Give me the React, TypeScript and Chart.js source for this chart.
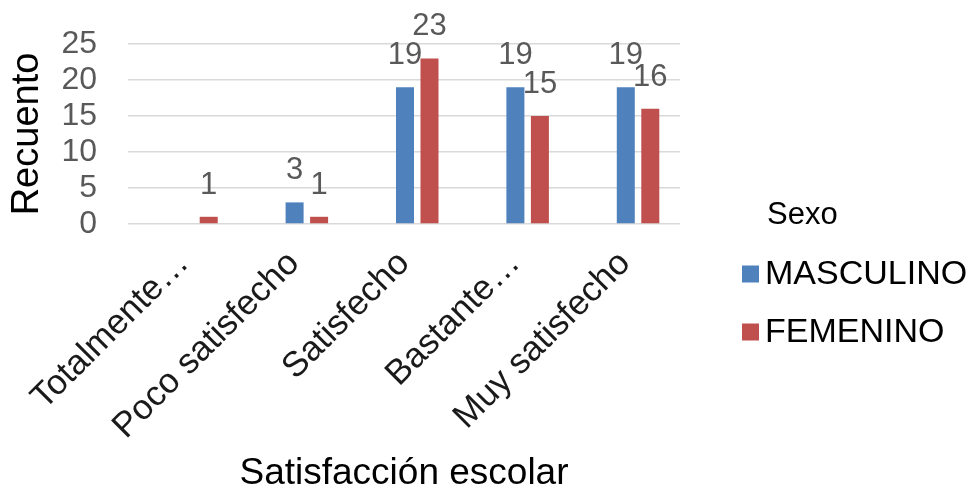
import React, { useEffect, useRef } from "react";
import { Chart, registerables } from "chart.js";

Chart.register(...registerables);

const categories = ["Totalmente…", "Poco satisfecho", "Satisfecho", "Bastante…", "Muy satisfecho"];
const seriesNames = ["MASCULINO", "FEMENINO"];
const masculino = [0, 3, 19, 19, 19];
const femenino = [1, 1, 23, 15, 16];
const yMin = 0;
const yMax = 25;
const yStep = 5;
const legendTitle = "Sexo";
const xTitle = "Satisfacción escolar";
const yTitle = "Recuento";

const colors = ["#4F81BD", "#C0504D"];
const FONT = "'Liberation Sans', Arial, sans-serif";

const dataLabelPlugin = {
  id: "dataLabels",
  afterDatasetsDraw(chart: any) {
    const ctx = chart.ctx;
    ctx.save();
    ctx.font = `31px ${FONT}`;
    ctx.fillStyle = "#595959";
    ctx.textAlign = "center";
    ctx.textBaseline = "alphabetic";
    chart.data.datasets.forEach((ds: any, di: number) => {
      const meta = chart.getDatasetMeta(di);
      meta.data.forEach((bar: any, i: number) => {
        const v = ds.data[i];
        if (!v) return;
        ctx.fillText(String(v), bar.x, bar.y - 23);
      });
    });
    ctx.restore();
  },
};

const legendPlugin = {
  id: "customLegend",
  afterDraw(chart: any) {
    const ctx = chart.ctx;
    ctx.save();
    ctx.textBaseline = "middle";
    ctx.textAlign = "left";
    ctx.fillStyle = "#000";
    ctx.font = `31px ${FONT}`;
    ctx.fillText(legendTitle, 767, 215);
    ctx.font = `34px ${FONT}`;
    chart.data.datasets.forEach((ds: any, i: number) => {
      const y = 274 + i * 58;
      ctx.fillStyle = ds.backgroundColor;
      ctx.fillRect(742, y - 8.5, 17, 17);
      ctx.fillStyle = "#000";
      ctx.fillText(ds.label, 765, y + 1);
    });
    ctx.restore();
  },
};

export default function App() {
  const ref = useRef<HTMLCanvasElement>(null);
  useEffect(() => {
    if (!ref.current) return;
    const chart = new Chart(ref.current, {
      type: "bar",
      data: {
        labels: categories,
        datasets: [
          { label: seriesNames[0], data: masculino, backgroundColor: colors[0] },
          { label: seriesNames[1], data: femenino, backgroundColor: colors[1] },
        ],
      },
      options: {
        responsive: false,
        animation: false,
        layout: { padding: { top: 44, right: 290, left: 0, bottom: 0 } },
        datasets: { bar: { categoryPercentage: 0.444, barPercentage: 0.735 } } as any,
        plugins: { legend: { display: false }, tooltip: { enabled: false } },
        scales: {
          x: {
            grid: { display: false },
            border: { display: false },
            afterFit: (s: any) => { s.height = 268; },
            afterBuildTicks: (s: any) => { s._startValue -= 0.12; },
            ticks: {
              autoSkip: false,
              minRotation: 45,
              maxRotation: 45,
              padding: 11,
              labelOffset: -13,
              color: "#1a1a1a",
              font: { family: FONT, size: 35 },
            },
            title: {
              display: true,
              text: xTitle,
              color: "#000",
              font: { family: FONT, size: 37, lineHeight: 1 },
              padding: { top: 0, bottom: 0 },
            },
          },
          y: {
            min: yMin,
            max: yMax,
            afterFit: (s: any) => { s.width = 128; },
            grid: { color: "#d9d9d9", lineWidth: 1.5, drawTicks: true, tickLength: 25, tickColor: "rgba(0,0,0,0)" },
            border: { display: false },
            ticks: {
              stepSize: yStep,
              autoSkip: false,
              padding: 6,
              color: "#595959",
              font: { family: FONT, size: 32 },
            },
            title: {
              display: true,
              text: yTitle,
              color: "#000",
              font: { family: FONT, size: 38, lineHeight: 1 },
              padding: { top: 8.5, bottom: 0 },
            },
          },
        },
      },
      plugins: [dataLabelPlugin, legendPlugin],
    });
    return () => chart.destroy();
  }, []);
  return (
    <div style={{ position: "absolute", left: 0, top: 0, width: 970, height: 492, background: "#fff" }}>
      <canvas ref={ref} width={970} height={492} />
    </div>
  );
}
